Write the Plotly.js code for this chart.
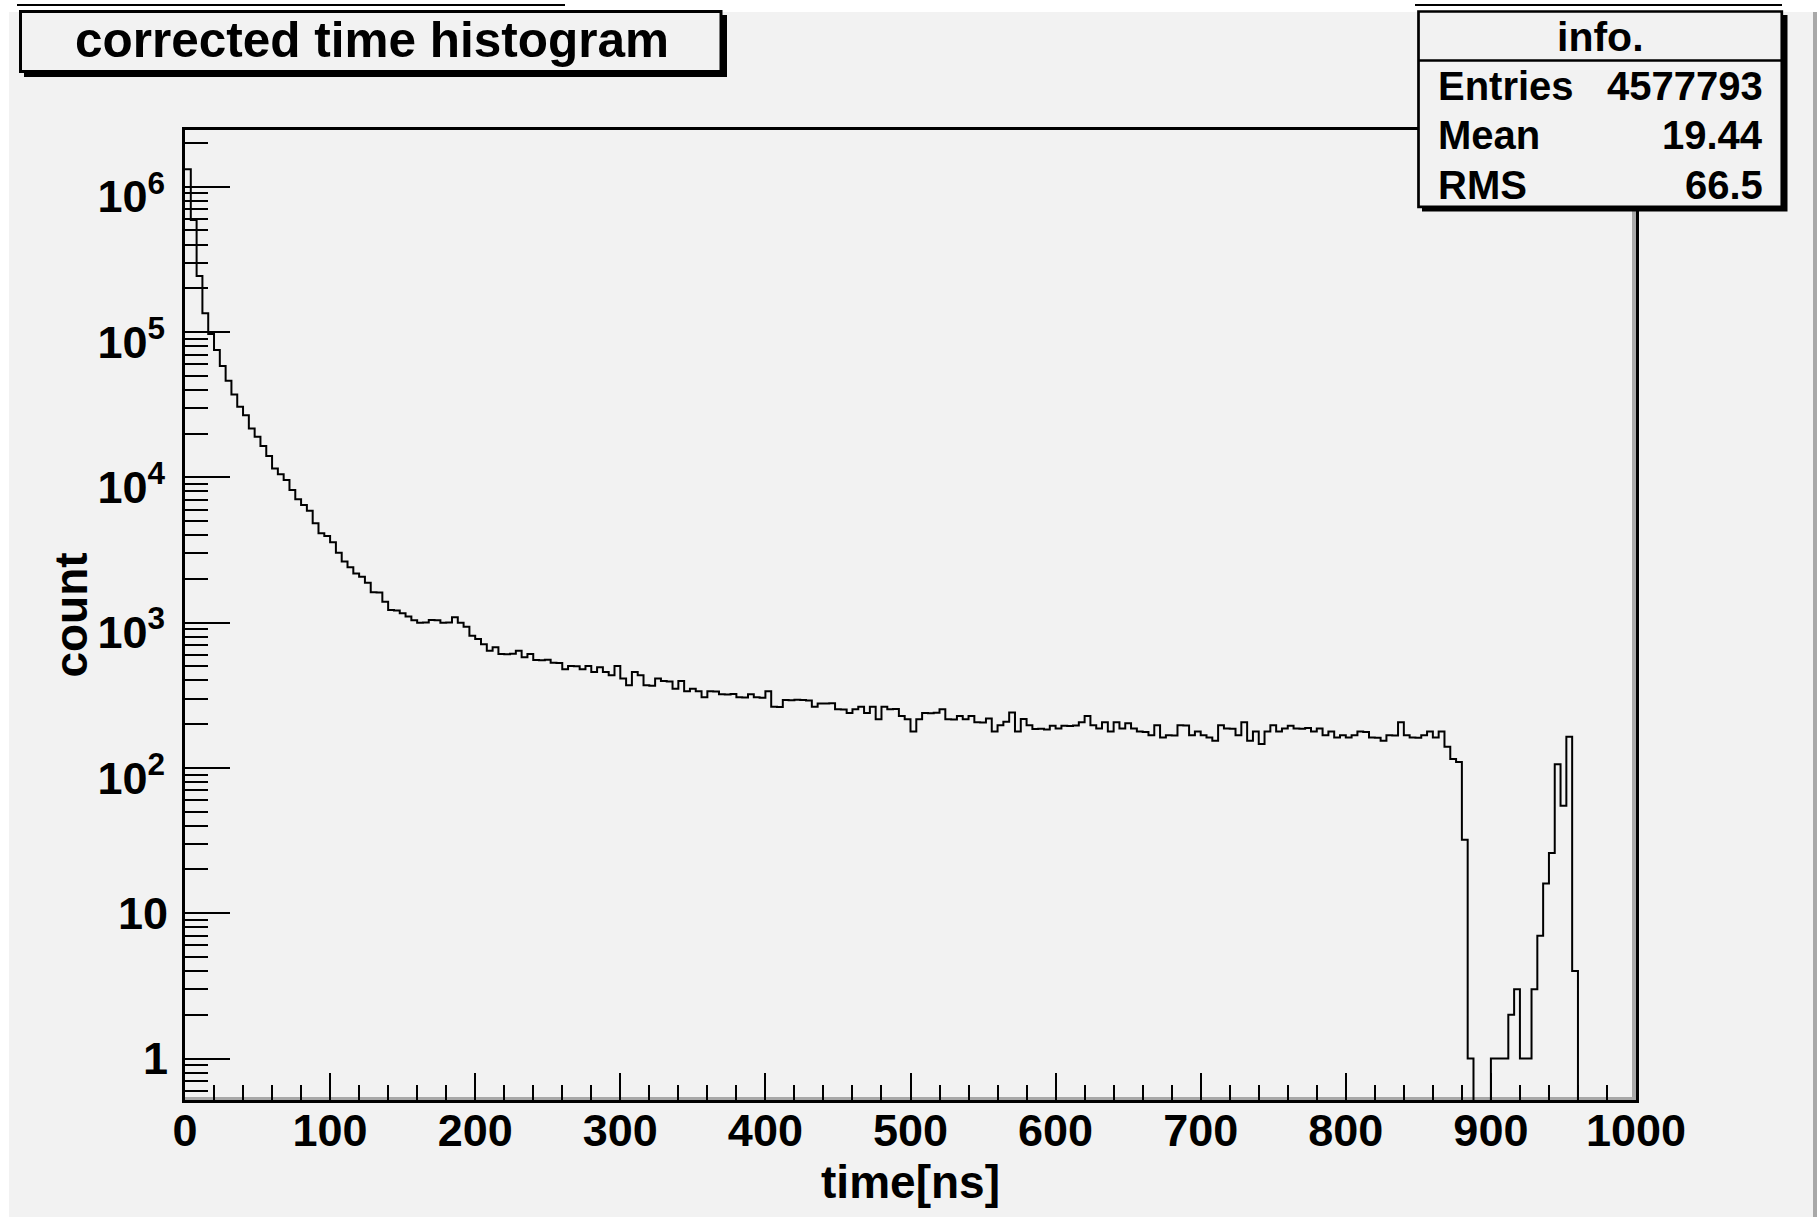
<!DOCTYPE html>
<html>
<head>
<meta charset="utf-8">
<script src="https://cdn.plot.ly/plotly-3.0.1.min.js"></script>
<style>
html, body { margin: 0; padding: 0; background: #ffffff; }
#panel { position: absolute; left: 9px; top: 12px; width: 1804px; height: 1205px; background: #f2f2f2; border-right: 4px solid #a8a8a8; box-sizing: content-box; }
.stray { position: absolute; top: 4px; height: 2px; background: #000; }
#chart { position: absolute; left: 0; top: 0; width: 1817px; height: 1217px; }
</style>
</head>
<body>
<div id="panel"></div>
<div class="stray" style="left:17px;width:548px"></div>
<div class="stray" style="left:1415px;width:367px"></div>
<div id="chart"></div>
<script>
// ---------------- data ----------------
const histTitle = 'corrected time histogram';
const xTitle = 'time[ns]';
const yTitle = 'count';
const xMin = 0;
const xMax = 1000;
const binWidth = 4;   // ns per bin (250 bins)
const counts = [
  1317000, 590000, 243000, 134500, 96900, 75200, 58300, 46200, 37200, 30600,
  26700, 21700, 19000, 16400, 14000, 11500, 10500, 9580, 8180, 7060,
  6450, 5890, 4820, 4120, 3950, 3570, 3030, 2630, 2400, 2180,
  2070, 1880, 1620, 1610, 1390, 1220, 1210, 1160, 1100, 1040,
  999, 1001, 1042, 1040, 999, 1003, 1087, 999, 938, 813,
  771, 709, 641, 676, 608, 606, 610, 641, 577, 608,
  553, 551, 556, 530, 528, 477, 503, 500, 477, 503,
  457, 492, 457, 434, 503, 413, 370, 457, 434, 370,
  368, 413, 396, 394, 351, 396, 337, 351, 337, 306,
  337, 335, 321, 320, 322, 306, 305, 321, 306, 304,
  337, 264, 263, 293, 292, 294, 293, 291, 264, 278,
  277, 279, 253, 252, 239, 253, 264, 239, 264, 216,
  264, 253, 254, 228, 216, 178, 216, 239, 238, 240,
  253, 216, 215, 228, 216, 228, 206, 205, 219, 178,
  197, 208, 241, 178, 217, 197, 185, 186, 184, 195,
  187, 195, 194, 196, 206, 228, 197, 187, 206, 178,
  206, 187, 203, 187, 178, 177, 168, 197, 162, 168,
  167, 197, 196, 168, 178, 168, 162, 154, 197, 187,
  186, 168, 206, 154, 178, 146, 178, 197, 178, 187,
  195, 187, 186, 188, 178, 187, 168, 178, 162, 168,
  162, 168, 178, 177, 162, 161, 154, 168, 167, 206,
  168, 162, 161, 168, 178, 162, 178, 140, 115, 110,
  32, 1, 0, 0, 0, 1, 1, 1, 2, 3,
  1, 1, 3, 7, 16, 26, 106, 55, 164, 4,
  0, 0, 0, 0, 0, 0, 0, 0, 0, 0
];
const statsHeader = 'info.';
const statsLabels = ['Entries', 'Mean', 'RMS'];
const statsValues = ['4577793', '19.44', '66.5'];
const yDecades = [1, 10, 100, 1000, 10000, 100000, 1000000];
const yDecadeLabels = ['1', '10', '10<sup>2</sup>', '10<sup>3</sup>', '10<sup>4</sup>', '10<sup>5</sup>', '10<sup>6</sup>'];
const yLogMin = -0.2856;   // axis range in log10(count)
const yLogMax = 6.3904;

// ---------------- layout helpers ----------------
const W = 1817, H = 1217;
const L = 185, R = 1636, T = 130, B = 1100;   // plot area in pixels
const px = v => (v - L) / (R - L);
const py = v => (B - v) / (B - T);
const FONT = 'Liberation Sans, Arial, Helvetica, sans-serif';
const BG = '#f2f2f2';
const boldFont = size => ({ family: FONT, size: size, color: '#000', weight: 700 });

// histogram as a step line through bin edges (empty bins drop below the axis)
const edges = counts.map((_, i) => xMin + i * binWidth);
edges.push(xMax);
const floorVal = 1e-3;
const yStep = counts.map(c => (c > 0 ? c : floorVal));
yStep.push(yStep[yStep.length - 1]);

const trace = {
  type: 'scatter', mode: 'lines',
  x: edges, y: yStep,
  line: { shape: 'hv', color: '#000', width: 2 },
  hoverinfo: 'skip', showlegend: false
};
// empty companion trace so the overlay label axis is drawn
const labelAxisTrace = {
  type: 'scatter', mode: 'lines', x: [], y: [],
  xaxis: 'x', yaxis: 'y2', hoverinfo: 'skip', showlegend: false
};

// minor log ticks 2..9 x 10^n inside the axis range
const yMinor = [];
for (let e = -1; e <= 6; e++) {
  for (let d = 2; d <= 9; d++) {
    const v = d * Math.pow(10, e);
    const lv = Math.log10(v);
    if (lv > yLogMin && lv < yLogMax) yMinor.push(v);
  }
}
// labels with exponents are centred as a whole block (ROOT style), plain ones on the tick
const powIdx = yDecadeLabels.map((t, i) => (t.indexOf('<sup>') >= 0 ? i : -1)).filter(i => i >= 0);
const plainIdx = yDecadeLabels.map((t, i) => (t.indexOf('<sup>') < 0 ? i : -1)).filter(i => i >= 0);

const shapes = [
  { type: 'line', xref: 'paper', yref: 'paper', layer: 'below', x0: px(1634), x1: px(1634), y0: 0, y1: 1, line: { color: '#a8a8a8', width: 4 } },
  { type: 'line', xref: 'paper', yref: 'paper', layer: 'below', x0: 0, x1: px(1634), y0: py(1098.5), y1: py(1098.5), line: { color: '#a8a8a8', width: 3 } },
  { type: 'rect', xref: 'paper', yref: 'paper', x0: px(24), x1: px(727), y0: py(15), y1: py(77), fillcolor: '#000', line: { width: 0 } },
  { type: 'rect', xref: 'paper', yref: 'paper', x0: px(20.5), x1: px(721), y0: py(11.5), y1: py(71.5), fillcolor: BG, line: { color: '#000', width: 3 } },
  { type: 'rect', xref: 'paper', yref: 'paper', x0: px(1422), x1: px(1787.5), y0: py(15), y1: py(211.5), fillcolor: '#000', line: { width: 0 } },
  { type: 'rect', xref: 'paper', yref: 'paper', x0: px(1418.5), x1: px(1781.8), y0: py(11.5), y1: py(206.8), fillcolor: BG, line: { color: '#000', width: 2.7 } },
  { type: 'line', xref: 'paper', yref: 'paper', x0: px(1418.5), x1: px(1781.8), y0: py(60.5), y1: py(60.5), line: { color: '#000', width: 2.7 } }
];

const annotations = [
  { xref: 'paper', yref: 'paper', x: px(1600), y: py(37.5), xanchor: 'center', yanchor: 'middle', text: statsHeader, showarrow: false, font: boldFont(41) }
];
statsLabels.forEach((lab, i) => {
  const yc = 86.1 + i * 49.2;
  annotations.push({ xref: 'paper', yref: 'paper', x: px(1436), y: py(yc), xanchor: 'left', yanchor: 'middle', text: lab, showarrow: false, font: boldFont(40) });
  annotations.push({ xref: 'paper', yref: 'paper', x: px(1765), y: py(yc), xanchor: 'right', yanchor: 'middle', text: statsValues[i], showarrow: false, font: boldFont(40) });
});

const layout = {
  width: W, height: H,
  paper_bgcolor: 'rgba(0,0,0,0)',
  plot_bgcolor: BG,
  margin: { l: L, r: W - R, t: T, b: H - B, pad: 0 },
  showlegend: false,
  title: {
    text: histTitle,
    font: boldFont(49.5),
    xref: 'container', yref: 'container',
    x: 372 / W, xanchor: 'center',
    y: 1 - 39.6 / H, yanchor: 'middle'
  },
  xaxis: {
    range: [xMin, xMax], tick0: 0, dtick: 100,
    ticks: 'inside', ticklen: 27, tickwidth: 2, tickcolor: '#000',
    minor: { dtick: 20, ticks: 'inside', ticklen: 15, tickwidth: 2, tickcolor: '#000', showgrid: false },
    showline: true, linewidth: 3, linecolor: '#000', mirror: true,
    showgrid: false, zeroline: false,
    tickfont: boldFont(45),
    ticklabelstandoff: -11,
    title: { text: xTitle, font: boldFont(46), standoff: 0 }
  },
  yaxis: {
    type: 'log', range: [yLogMin, yLogMax],
    tickmode: 'array', tickvals: yDecades,
    ticktext: yDecadeLabels.map((t, i) => (powIdx.includes(i) ? t : '')),
    ticks: 'inside', ticklen: 45, tickwidth: 2, tickcolor: '#000',
    minor: { tickmode: 'array', tickvals: yMinor, ticks: 'inside', ticklen: 23, tickwidth: 2, tickcolor: '#000', showgrid: false },
    showline: true, linewidth: 3, linecolor: '#000', mirror: true,
    showgrid: false, zeroline: false,
    tickfont: boldFont(45),
    ticklabelstandoff: 8,
    ticklabelshift: 10
  },
  yaxis2: {
    overlaying: 'y', anchor: 'x', side: 'left',
    type: 'log', range: [yLogMin, yLogMax],
    tickmode: 'array',
    tickvals: plainIdx.map(i => yDecades[i]),
    ticktext: plainIdx.map(i => yDecadeLabels[i]),
    ticks: '', showline: true, linewidth: 3, linecolor: '#000',
    showgrid: false, zeroline: false,
    tickfont: boldFont(45),
    ticklabelstandoff: 5,
    title: { text: yTitle, font: boldFont(46), standoff: 16 }
  },
  shapes: shapes,
  annotations: annotations
};

Plotly.newPlot('chart', [trace, labelAxisTrace], layout, { displayModeBar: false, staticPlot: true });
</script>
</body>
</html>
